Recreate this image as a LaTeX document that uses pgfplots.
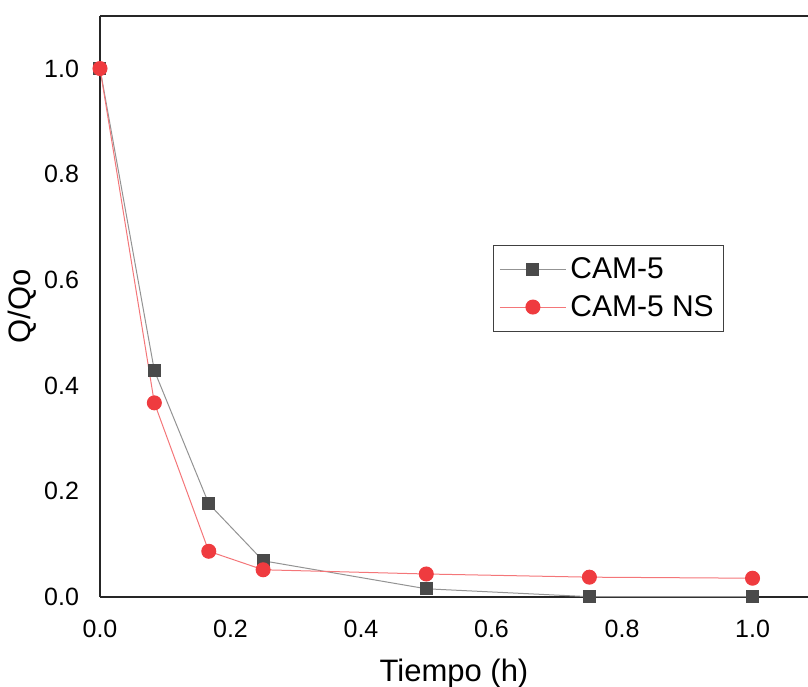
\documentclass[border=0pt]{standalone}
\usepackage{pgfplots}
\pgfplotsset{compat=1.18}
\usepackage{fontspec}
\setmainfont{Liberation Sans}
\definecolor{camgray}{HTML}{4A4A4A}
\definecolor{camred}{HTML}{EF3B3F}

\begin{document}
\begin{tikzpicture}
\begin{axis}[
    at={(0,0)}, anchor=south west,
    width=354pt, height=290.5pt,
    scale only axis,
    xmin=0, xmax=1.085,
    ymin=0, ymax=1.1,
    xtick={0,0.2,...,1.0},
    ytick={0,0.2,...,1.0},
    tick label style={font=\fontsize{12.5}{14}\selectfont},
    xticklabel style={yshift=-8pt, /pgf/number format/.cd, fixed, fixed zerofill, precision=1},
    yticklabel style={xshift=-7pt, /pgf/number format/.cd, fixed, fixed zerofill, precision=1},
    /pgf/number format/assume math mode=true,
    major tick length=0pt,
    axis x line*=bottom, axis y line*=left,
    axis line style={-, line width=1pt, black!85},
    xlabel={Tiempo (h)},
    ylabel={Q/Qo},
    label style={font=\fontsize{15.5}{18}\selectfont},
    xlabel style={yshift=-4pt},
    ylabel style={yshift=-3pt},
    clip=false,
    legend style={at={(0.555,0.606)}, anchor=north west,
        font=\fontsize{15}{17}\selectfont, draw=black!75, line width=0.5pt,
        inner xsep=3pt, inner ysep=4pt, row sep=3pt},
    legend cell align=left,
    legend image code/.code={%
        \draw[mark repeat=2, mark phase=2] plot coordinates {(0pt,0pt) (16.5pt,0pt) (33pt,0pt)};},
]
\draw[line width=1pt, black!85] (rel axis cs:0,1) -- (rel axis cs:1,1);

\addplot[color=gray!85, line width=0.5pt, mark=square*,
    mark options={draw=camgray, fill=camgray, mark size=3pt}]
coordinates {(0,1) (0.0833,0.428) (0.1667,0.176) (0.25,0.068) (0.5,0.015) (0.75,0) (1.0,0)};
\addlegendentry{CAM-5}

\addplot[color=camred!70, line width=0.5pt, mark=*,
    mark options={draw=camred, fill=camred, mark size=3.5pt}]
coordinates {(0,1) (0.0833,0.367) (0.1667,0.086) (0.25,0.051) (0.5,0.043) (0.75,0.037) (1.0,0.035)};
\addlegendentry{CAM-5 NS}
\end{axis}
\pgfresetboundingbox
\path[use as bounding box] (-50pt,-45pt) rectangle (354pt,298.35pt);
\end{tikzpicture}
\end{document}
